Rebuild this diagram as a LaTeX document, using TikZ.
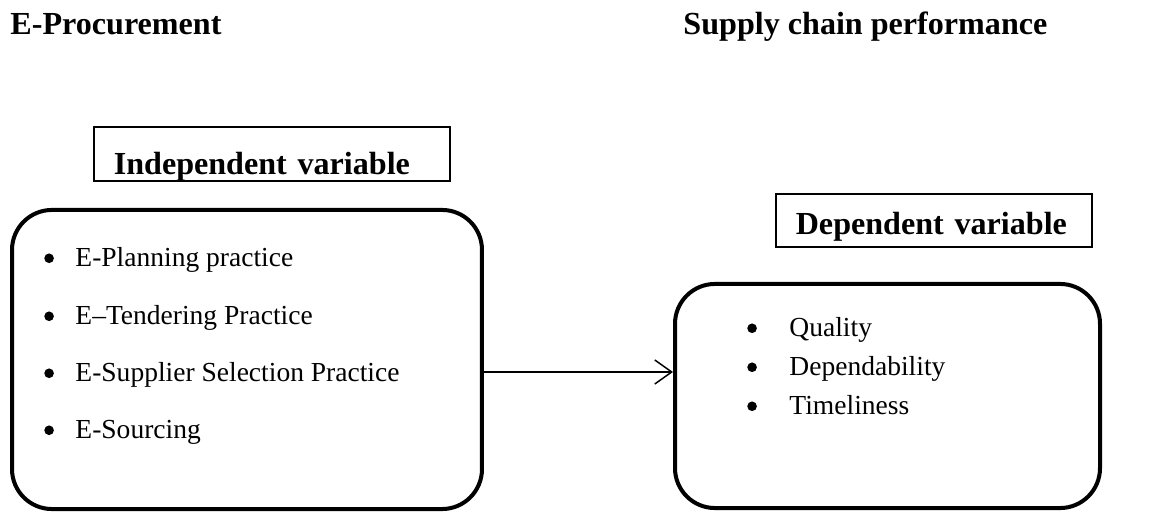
\documentclass[tikz,border=0pt]{standalone}
\usepackage{fontspec}
\setmainfont{Liberation Serif}
\usetikzlibrary{arrows.meta}

\begin{document}
\begin{tikzpicture}[x=0.436pt, y=-0.436pt,
    group node/.style={draw, line width=1.75pt, rounded corners=17.4pt, inner sep=0pt},
    label node/.style={draw, line width=0.7pt, anchor=south west, inner ysep=0pt, inner xsep=8.72pt,
        align=left, font=\fontsize{14}{16}\selectfont\bfseries},
    heading node/.style={anchor=base west, inner sep=0pt, font=\fontsize{14}{16}\selectfont\bfseries},
    item node/.style={anchor=base west, inner sep=0pt, font=\fontsize{12}{14}\selectfont},
    arrow line/.style={line width=0.65pt, -{Straight Barb[length=7.4pt,width=10.5pt]}}]
\useasboundingbox (0,0) rectangle (1168,513);

% titles
\node[heading node] (proc) at (10,35) {E-Procurement};
\node[heading node] (scp) at (683,35) {Supply chain performance};

% variable labels
\node[label node, text width=137.8pt, text height=20.5pt, text depth=3.05pt] (indep) at (93,182) {Independent variable};
\node[label node, text width=120.3pt, text height=17.44pt, text depth=5.67pt] (dep) at (775,248) {Dependent variable};

% boxes
\node[group node, minimum width=204.9pt, minimum height=130.4pt] (ebox) at (247,359.5) {};
\node[group node, minimum width=185.3pt, minimum height=97.7pt] (sbox) at (887.5,396) {};

% items
\node[item node] (e1) at (75,267) {E-Planning practice};
\node[item node] (e2) at (75,325) {E--Tendering Practice};
\node[item node] (e3) at (75,382) {E-Supplier Selection Practice};
\node[item node] (e4) at (75,439) {E-Sourcing};

\node[item node] (s1) at (789,337) {Quality};
\node[item node] (s2) at (789,376) {Dependability};
\node[item node] (s3) at (789,415) {Timeliness};

% bullets
\foreach \n in {e1,e2,e3,e4}
    \fill ([xshift=-11.3pt, yshift=3.8pt]\n.base west) circle (2.1pt);
\foreach \n in {s1,s2,s3}
    \fill ([xshift=-16.1pt, yshift=3.8pt]\n.base west) circle (2.1pt);

\coordinate (ay) at (0,372);
\draw[arrow line] (ebox.east |- ay) -- (sbox.west |- ay);
\end{tikzpicture}
\end{document}
